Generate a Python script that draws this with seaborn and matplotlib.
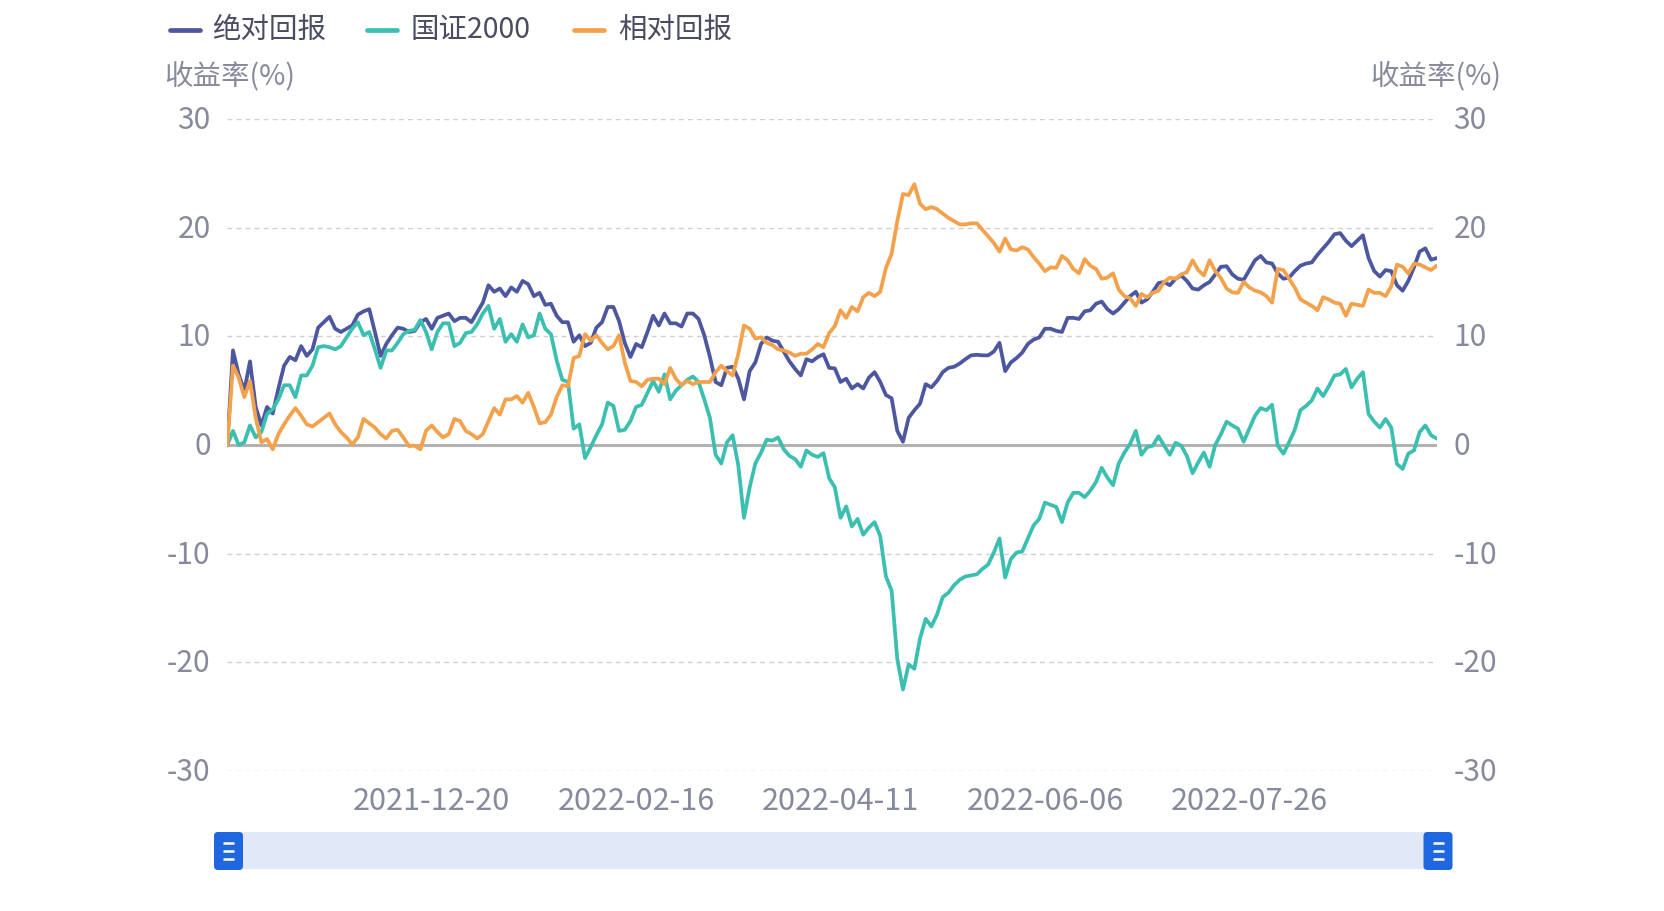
import numpy as np
import pandas as pd
import matplotlib
matplotlib.use("Agg")
import matplotlib.pyplot as plt
import matplotlib.transforms as mtransforms
import seaborn as sns
from matplotlib.lines import Line2D
from matplotlib.patches import Rectangle, FancyBboxPatch

# ---------------- data ----------------
series_names = ["绝对回报", "国证2000", "相对回报"]

abs_ret = [
    0, 8.7, 6.5, 5.0, 7.7, 3.5, 1.8, 3.5, 2.9, 5.2,
    7.3, 8.1, 7.8, 9.1, 8.2, 8.8, 10.8, 11.3, 11.8, 10.7,
    10.4, 10.7, 11.0, 12.0, 12.3, 12.5, 10.4, 8.2, 9.3, 10.1,
    10.8, 10.7, 10.4, 10.5, 11.3, 11.6, 10.7, 11.7, 11.9, 12.1,
    11.4, 11.7, 11.7, 11.3, 12.2, 13.1, 14.7, 14.1, 14.4, 13.7,
    14.5, 14.1, 15.1, 14.8, 13.7, 14.0, 12.9, 13.0, 11.9, 11.3,
    11.3, 9.5, 10.1, 9.1, 9.4, 10.8, 11.3, 12.7, 12.7, 11.4,
    9.4, 8.1, 9.3, 9.0, 10.4, 11.9, 11.0, 12.1, 11.2, 11.2,
    10.9, 12.1, 12.1, 11.6, 10.1, 8.1, 5.8, 5.5, 7.1, 7.2,
    6.1, 4.2, 6.8, 7.6, 9.3, 9.9, 9.6, 9.5, 8.6, 7.7,
    7.0, 6.4, 7.9, 7.7, 8.1, 8.35, 7.1, 7.05, 5.8, 6.1,
    5.2, 5.6, 5.2, 6.2, 6.7, 5.8, 4.6, 4.3, 1.3, 0.3,
    2.5, 3.2, 3.8, 5.6, 5.3, 5.9, 6.7, 7.1, 7.2, 7.5,
    7.9, 8.25, 8.3, 8.25, 8.25, 8.6, 9.4, 6.8, 7.6, 8.0,
    8.5, 9.3, 9.7, 9.9, 10.7, 10.7, 10.5, 10.4, 11.7, 11.7,
    11.6, 12.3, 12.4, 13.0, 13.2, 12.5, 12.1, 12.5, 13.1, 13.7,
    14.1, 13.1, 13.4, 14.1, 14.9, 15.0, 14.7, 15.3, 15.6, 15.1,
    14.4, 14.3, 14.7, 15.0, 15.7, 16.4, 16.45, 15.7, 15.3, 15.2,
    16.1, 17.0, 17.4, 16.8, 16.7, 15.8, 15.3, 15.4, 16.0, 16.5,
    16.7, 16.8, 17.5, 18.1, 18.7, 19.4, 19.5, 18.8, 18.3, 18.8,
    19.3, 17.2, 16.0, 15.5, 16.1, 16.0, 14.7, 14.2, 15.1, 16.35,
    17.8, 18.1, 17.05, 17.2,
]

index_ret = [
    0, 1.3, 0, 0.25, 1.8, 0.7, 1.2, 2.85, 3.3, 4.2,
    5.5, 5.5, 4.4, 6.4, 6.4, 7.3, 9.0, 9.1, 9.0, 8.8,
    9.1, 9.9, 10.7, 11.3, 10.1, 10.4, 8.8, 7.1, 8.7, 8.7,
    9.4, 10.2, 10.5, 10.6, 11.5, 10.4, 8.8, 10.4, 11.2, 11.2,
    9.1, 9.4, 10.3, 10.4, 11.1, 12.1, 12.8, 10.7, 11.6, 9.5,
    10.2, 9.5, 11.1, 9.9, 10.1, 12.1, 10.7, 10.2, 7.8, 6.0,
    5.8, 1.5, 1.9, -1.2, -0.2, 0.9, 1.9, 3.9, 3.6, 1.3,
    1.4, 2.2, 3.5, 3.7, 4.8, 5.9, 4.9, 6.5, 4.2, 5.0,
    5.5, 6.0, 6.3, 5.8, 4.2, 2.5, -0.9, -1.7, 0.25, 0.9,
    -1.9, -6.7, -3.9, -1.7, -0.7, 0.5, 0.4, 0.7, -0.4, -1.0,
    -1.3, -2.0, -0.5, -0.9, -1.1, -0.75, -3.05, -3.9, -6.7, -5.65,
    -7.5, -6.8, -8.25, -7.6, -7.1, -8.4, -12.1, -13.4, -19.7, -22.5,
    -20.2, -20.6, -17.8, -16.0, -16.7, -15.6, -14.0, -13.6, -12.9, -12.4,
    -12.1, -12.0, -11.9, -11.4, -11.0, -9.9, -8.6, -12.2, -10.5, -9.9,
    -9.8, -8.6, -7.4, -6.8, -5.3, -5.5, -5.7, -7.1, -5.3, -4.4,
    -4.4, -4.8, -4.2, -3.4, -2.1, -3.0, -3.7, -1.7, -0.7, 0.1,
    1.3, -0.9, -0.2, -0.06, 0.8, -0.06, -0.9, 0.2, -0.06, -1.0,
    -2.6, -1.6, -0.7, -2.0, 0.0, 1.0, 2.15, 1.8, 1.5, 0.3,
    1.5, 2.7, 3.4, 3.2, 3.7, -0.06, -0.8, 0.25, 1.4, 3.2,
    3.6, 4.1, 5.2, 4.5, 5.4, 6.4, 6.5, 7.0, 5.3, 6.1,
    6.7, 2.85, 2.15, 1.6, 2.4, 1.6, -1.75, -2.2, -0.8, -0.5,
    1.2, 1.8, 0.9, 0.6,
]

rel_ret = [
    0, 7.3, 6.2, 4.4, 5.9, 2.5, 0.25, 0.55, -0.4, 1.0,
    1.9, 2.7, 3.4, 2.7, 1.9, 1.7, 2.1, 2.5, 2.9, 1.9,
    1.2, 0.7, 0.06, 0.7, 2.4, 2.0, 1.6, 1.0, 0.6, 1.3,
    1.4, 0.7, -0.1, -0.06, -0.4, 1.3, 1.8, 1.2, 0.7, 1.0,
    2.4, 2.2, 1.3, 1.0, 0.6, 1.0, 2.2, 3.4, 2.8, 4.2,
    4.2, 4.5, 3.9, 4.8, 3.5, 2.0, 2.1, 2.8, 4.4, 5.5,
    5.4, 8.0, 8.2, 10.2, 9.6, 10.1, 9.4, 8.8, 9.1, 10.1,
    7.6, 5.9, 5.8, 5.4, 6.0, 6.1, 6.1, 5.6, 7.1, 6.1,
    5.5, 5.9, 5.6, 5.8, 5.8, 5.8, 6.7, 7.3, 6.8, 6.4,
    8.4, 11.0, 10.7, 9.8, 9.9, 9.4, 9.2, 8.8, 8.7, 8.5,
    8.2, 8.4, 8.4, 8.8, 9.3, 9.0, 10.3, 10.95, 12.4, 11.7,
    12.7, 12.3, 13.6, 14.0, 13.7, 14.1, 16.3, 17.6, 20.6, 23.1,
    23.0, 24.0, 22.2, 21.7, 21.9, 21.7, 21.3, 20.9, 20.6, 20.3,
    20.3, 20.4, 20.4, 19.8, 19.2, 18.6, 17.8, 19.0, 18.0, 17.9,
    18.2, 18.0, 17.3, 16.7, 16.0, 16.35, 16.3, 17.4, 17.0, 16.2,
    15.8, 17.1, 16.5, 16.2, 15.3, 15.4, 15.8, 14.3, 13.7, 13.5,
    12.8, 13.9, 13.6, 14.0, 14.2, 15.0, 15.4, 15.3, 15.7, 15.9,
    17.0, 16.1, 15.6, 17.0, 16.0, 15.35, 14.4, 14.05, 14.0, 15.0,
    14.5, 14.2, 14.05, 13.7, 13.1, 16.2, 16.1, 15.3, 14.5, 13.4,
    13.1, 12.8, 12.4, 13.6, 13.4, 13.1, 13.0, 11.9, 13.0, 12.9,
    12.8, 14.3, 14.0, 14.0, 13.7, 14.6, 16.6, 16.4, 15.8, 16.7,
    16.6, 16.35, 16.1, 16.5,
]

x_tick_labels = ["2021-12-20", "2022-02-16", "2022-04-11", "2022-06-06", "2022-07-26"]
label_interval = 36  # category axis shows a label every 36 trading days
y_ticks = [-30, -20, -10, 0, 10, 20, 30]

colors = ["#4c579f", "#3bbfb0", "#f3a14b"]
axis_gray = "#868a9c"
legend_text_color = "#4a4d62"

# ---------------- figure ----------------
W, H = 1664, 912
fig = plt.figure(figsize=(W / 100, H / 100), dpi=100)
fig.patch.set_facecolor("white")
sns.set_style("white")
plt.rcParams["font.family"] = ["Noto Sans CJK SC", "DejaVu Sans"]

n = len(abs_ret)
df = pd.DataFrame({"day": np.arange(n),
                   series_names[0]: abs_ret,
                   series_names[1]: index_ret,
                   series_names[2]: rel_ret})
long = df.melt(id_vars="day", var_name="series", value_name="value")

left, right = 227.3 / W, 1436.7 / W
top, bottom = 1 - 120 / H, 1 - 772 / H
ax = fig.add_axes([left, bottom, right - left, top - bottom])

# grid & zero line
for yv in y_ticks:
    if yv == 0:
        continue
    ax.axhline(yv, color="#cfcfd4", lw=1.0, linestyle=(0, (3.5, 3)), zorder=0)
ax.axhline(0, color="#b2b2b2", lw=2.2, zorder=1)

sns.lineplot(data=long, x="day", y="value", hue="series", hue_order=series_names,
             palette=colors, linewidth=2.7, legend=False, ax=ax, zorder=3)

ax.set_xlim(0, n - 1)
ax.set_ylim(-30, 30)
ax.set_yticks(y_ticks)
ax.set_yticklabels([str(v) for v in y_ticks])
tick_pos = [label_interval * (k + 1) for k in range(len(x_tick_labels))]
ax.set_xticks(tick_pos)
ax.set_xticklabels(x_tick_labels)
ax.set_xlabel("")
ax.set_ylabel("")
for s in ax.spines.values():
    s.set_visible(False)
ax.tick_params(axis="y", length=0, labelsize=21.5, labelcolor=axis_gray, pad=12)
ax.tick_params(axis="x", length=0, labelsize=22, labelcolor=axis_gray, pad=10)

ax2 = ax.twinx()
ax2.set_ylim(-30, 30)
ax2.set_yticks(y_ticks)
ax2.set_yticklabels([str(v) for v in y_ticks])
for s in ax2.spines.values():
    s.set_visible(False)
ax2.tick_params(axis="y", length=0, labelsize=21.5, labelcolor=axis_gray, pad=12)

# nudge y tick labels up slightly
shift = mtransforms.ScaledTranslation(0, 3 / 100, fig.dpi_scale_trans)
for lab in ax.get_yticklabels() + ax2.get_yticklabels():
    lab.set_transform(lab.get_transform() + shift)

# axis titles
fig.text(164 / W, 1 - 76 / H, "收益率(%)", ha="left", va="center", fontsize=20.5, color=axis_gray)
fig.text(1501 / W, 1 - 76 / H, "收益率(%)", ha="right", va="center", fontsize=20.5, color=axis_gray)

# legend
legend_pos = [(170, 200, 212), (367, 397, 411), (574, 604, 618)]
for name, col, (x0, x1, tx) in zip(series_names, colors, legend_pos):
    fig.add_artist(Line2D([x0 / W, x1 / W], [1 - 31 / H, 1 - 31 / H], transform=fig.transFigure,
                          color=col, lw=3.4, solid_capstyle="round"))
    fig.text(tx / W, 1 - 30 / H, name, ha="left", va="center", fontsize=20.5, color=legend_text_color)

# data zoom slider (decoration)
sax = fig.add_axes([0, 0, 1, 1], zorder=-1)
sax.set_xlim(0, W)
sax.set_ylim(H, 0)
sax.axis("off")
sax.patch.set_alpha(0)
sax.add_patch(Rectangle((228, 833), 1210, 37, color="#e1e9f8", lw=0))
for cx in (228.5, 1438):
    sax.add_patch(FancyBboxPatch((cx - 14.5, 833), 29, 38,
                                 boxstyle="round,pad=0,rounding_size=4",
                                 facecolor="#1f67de", edgecolor="none"))
    for dy in (-8, 0, 8):
        sax.plot([cx - 5.5, cx + 5.5], [852 + dy, 852 + dy], color="white", lw=1.8,
                 solid_capstyle="butt")

fig.savefig("out.png", dpi=100, facecolor="white")
